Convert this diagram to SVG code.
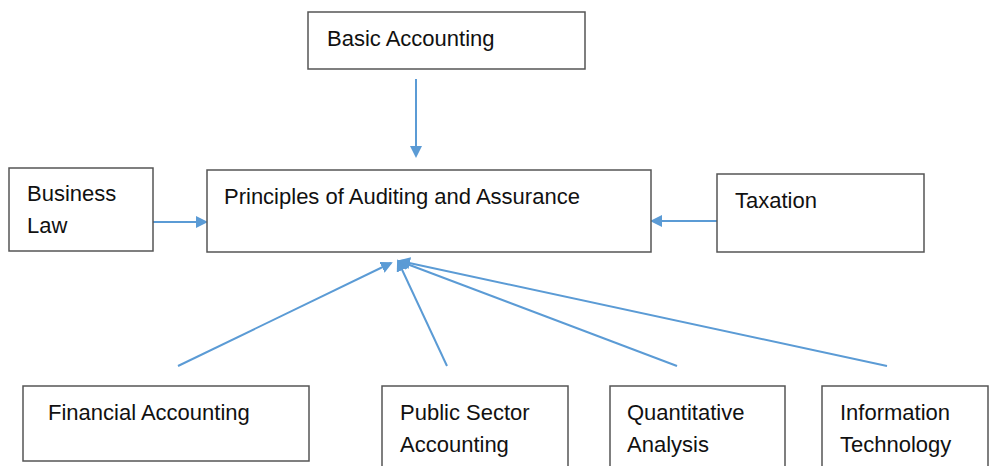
<svg xmlns="http://www.w3.org/2000/svg" width="994" height="466" viewBox="0 0 994 466">
<style>
.box{fill:#fff;stroke:#555;stroke-width:1.5}
.t{font-family:"Liberation Sans",Arial,sans-serif;font-size:22px;fill:#111}
.c{stroke:#5b9bd5;stroke-width:2;fill:none;marker-end:url(#ah)}
</style>
<defs>
<marker id="ah" markerWidth="6" markerHeight="6" refX="5" refY="3" orient="auto" markerUnits="strokeWidth">
<path d="M0,0 L6,3 L0,6 z" fill="#5b9bd5"/>
</marker>
</defs>
<rect width="994" height="466" fill="#fff"/>
<g id="connectors">
<line class="c" x1="416" y1="79" x2="416" y2="156"/>
<line class="c" x1="153" y1="222" x2="206" y2="222"/>
<line class="c" x1="717" y1="221" x2="652" y2="221"/>
<line class="c" x1="178" y1="366" x2="391" y2="263"/>
<line class="c" x1="447" y1="366" x2="398" y2="261"/>
<line class="c" x1="677" y1="366" x2="399" y2="261"/>
<line class="c" x1="887" y1="366" x2="400" y2="261"/>
</g>
<g id="basic">
<rect class="box" x="308" y="12" width="277" height="57"/>
<text class="t" x="327" y="46">Basic Accounting</text>
</g>
<g id="principles">
<rect class="box" x="207" y="170" width="444" height="82"/>
<text class="t" x="224" y="204">Principles of Auditing and Assurance</text>
</g>
<g id="business">
<rect class="box" x="9" y="168" width="144" height="83"/>
<text class="t" x="27" y="201">Business</text>
<text class="t" x="27" y="233">Law</text>
</g>
<g id="taxation">
<rect class="box" x="717" y="174" width="207" height="78"/>
<text class="t" x="735" y="208">Taxation</text>
</g>
<g id="financial">
<rect class="box" x="23" y="386" width="286" height="75"/>
<text class="t" x="48" y="420">Financial Accounting</text>
</g>
<g id="public">
<rect class="box" x="382" y="386" width="186" height="90"/>
<text class="t" x="400" y="420">Public Sector</text>
<text class="t" x="400" y="452">Accounting</text>
</g>
<g id="quant">
<rect class="box" x="610" y="386" width="175" height="90"/>
<text class="t" x="627" y="420">Quantitative</text>
<text class="t" x="627" y="452">Analysis</text>
</g>
<g id="it">
<rect class="box" x="822" y="386" width="166" height="90"/>
<text class="t" x="840" y="420">Information</text>
<text class="t" x="840" y="452">Technology</text>
</g>
</svg>
